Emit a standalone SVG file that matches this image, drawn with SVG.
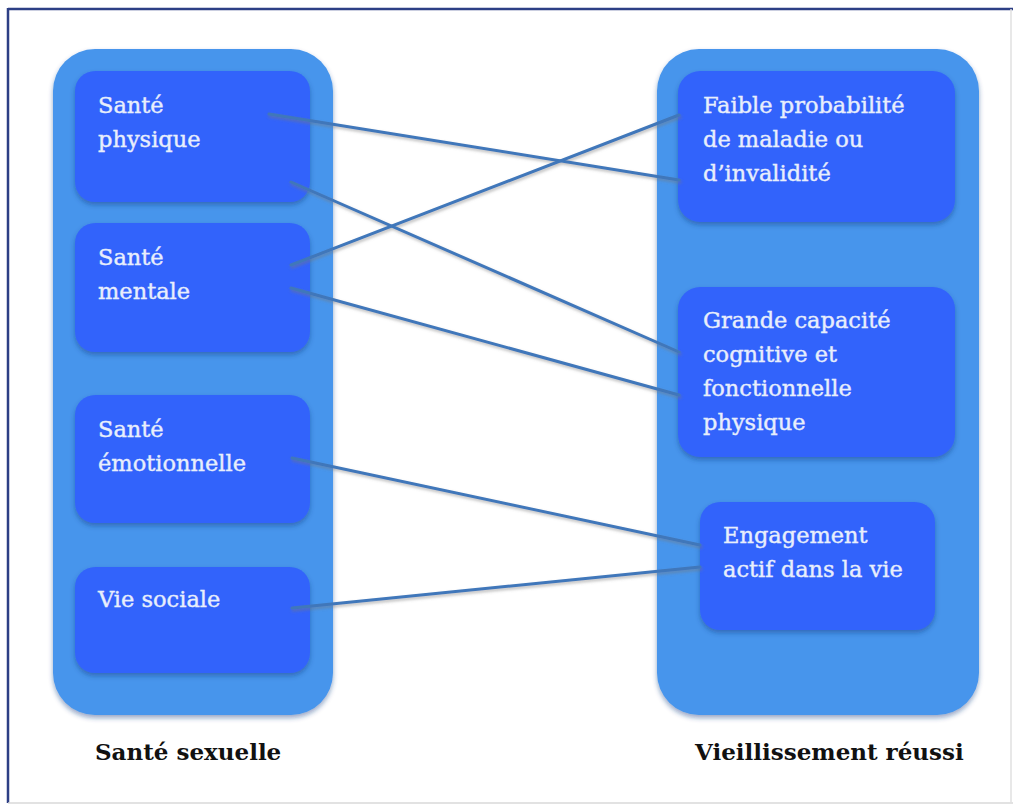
<svg xmlns="http://www.w3.org/2000/svg" width="1013" height="805" viewBox="0 0 1013 805">
<defs>
<style>
.cont{fill:#4795ec;}
.box{fill:#3264fb;}
.t{font-family:"DejaVu Serif","Liberation Serif",serif;font-size:22.5px;fill:#e8eefb;stroke:#e8eefb;stroke-width:0.4;}
.lbl{font-family:"DejaVu Serif","Liberation Serif",serif;font-size:23px;font-weight:bold;fill:#111;}
.c{stroke:#3f77ba;stroke-width:3;fill:none;stroke-linecap:round;}
</style>
<filter id="sh" x="-10%" y="-10%" width="120%" height="130%">
<feDropShadow dx="0" dy="3" stdDeviation="2.5" flood-color="#1a3a80" flood-opacity="0.45"/>
</filter>
<filter id="lsh" x="-5%" y="-20%" width="110%" height="140%">
<feDropShadow dx="1" dy="2" stdDeviation="1.5" flood-color="#777" flood-opacity="0.5"/>
</filter>
</defs>
<rect x="0" y="0" width="1013" height="805" fill="#ffffff"/>
<line x1="8" y1="9" x2="1013" y2="9" stroke="#2d3f85" stroke-width="2.5"/>
<line x1="8" y1="8" x2="8" y2="803" stroke="#2d3f85" stroke-width="2.5"/>
<line x1="8" y1="803" x2="1013" y2="803" stroke="#d8d8d8" stroke-width="1.5"/>
<line x1="1011" y1="9" x2="1011" y2="803" stroke="#e0e0e0" stroke-width="1.5"/>

<g id="sante-sexuelle">
<rect class="cont" x="53" y="49" width="280" height="666" rx="42" filter="url(#sh)"/>
<text class="lbl" x="95" y="760">Santé sexuelle</text>
</g>
<g id="vieillissement-reussi">
<rect class="cont" x="657" y="49" width="322" height="666" rx="42" filter="url(#sh)"/>
<text class="lbl" x="695" y="760">Vieillissement réussi</text>
</g>

<g id="sante-physique">
<rect class="box" x="75" y="71" width="235" height="131" rx="20" filter="url(#sh)"/>
<text class="t" x="98" y="113">Santé</text>
<text class="t" x="98" y="147">physique</text>
</g>
<g id="sante-mentale">
<rect class="box" x="75" y="223" width="235" height="129" rx="20" filter="url(#sh)"/>
<text class="t" x="98" y="265">Santé</text>
<text class="t" x="98" y="299">mentale</text>
</g>
<g id="sante-emotionnelle">
<rect class="box" x="75" y="395" width="235" height="128" rx="20" filter="url(#sh)"/>
<text class="t" x="98" y="437">Santé</text>
<text class="t" x="98" y="471">émotionnelle</text>
</g>
<g id="vie-sociale">
<rect class="box" x="75" y="567" width="235" height="106" rx="20" filter="url(#sh)"/>
<text class="t" x="98" y="607">Vie sociale</text>
</g>

<g id="faible-probabilite">
<rect class="box" x="678" y="71" width="277" height="151" rx="22" filter="url(#sh)"/>
<text class="t" x="703" y="113">Faible probabilité</text>
<text class="t" x="703" y="147">de maladie ou</text>
<text class="t" x="703" y="181">d’invalidité</text>
</g>
<g id="grande-capacite">
<rect class="box" x="678" y="287" width="277" height="170" rx="22" filter="url(#sh)"/>
<text class="t" x="703" y="328">Grande capacité</text>
<text class="t" x="703" y="362">cognitive et</text>
<text class="t" x="703" y="396">fonctionnelle</text>
<text class="t" x="703" y="430">physique</text>
</g>
<g id="engagement-actif">
<rect class="box" x="700" y="502" width="235" height="128" rx="20" filter="url(#sh)"/>
<text class="t" x="723" y="543">Engagement</text>
<text class="t" x="723" y="577">actif dans la vie</text>
</g>

<g id="connectors" filter="url(#lsh)">
<line class="c" x1="269" y1="114" x2="679" y2="180"/>
<line class="c" x1="291" y1="182" x2="679" y2="352"/>
<line class="c" x1="291" y1="265" x2="679" y2="115"/>
<line class="c" x1="291" y1="288" x2="679" y2="395"/>
<line class="c" x1="292" y1="458" x2="700" y2="545"/>
<line class="c" x1="292" y1="608" x2="700" y2="567"/>
</g>
</svg>
